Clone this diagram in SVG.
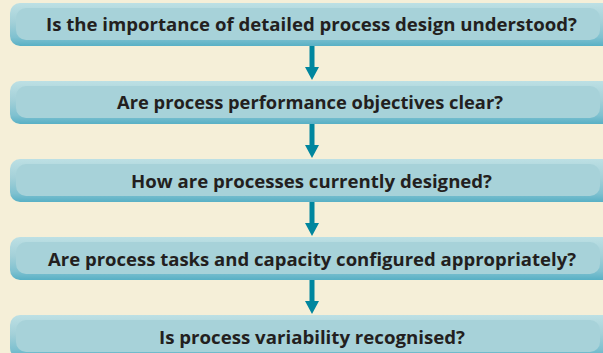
<svg xmlns="http://www.w3.org/2000/svg" width="603" height="353" viewBox="0 0 603 353">
  <defs>
    <linearGradient id="outerGrad" x1="0" y1="0" x2="0" y2="1">
      <stop offset="0" stop-color="#bde0e4"/>
      <stop offset="0.45" stop-color="#a3d0d8"/>
      <stop offset="0.8" stop-color="#7fc1d0"/>
      <stop offset="1" stop-color="#58b0c5"/>
    </linearGradient>
    <style>
      .outer { fill: url(#outerGrad); }
      .inner { fill: #a7d2d9; }
      .label { font-family: "Open Sans", "DejaVu Sans", sans-serif; font-weight: 700; font-size: 18px; fill: #231f20; text-anchor: middle; }
      .arrow { fill: #00869e; }
    </style>
  </defs>
  <rect x="0" y="0" width="603" height="353" fill="#f5efd8"/>

  <g id="node1">
    <rect class="outer" x="10" y="3" width="610" height="43" rx="10"/>
    <rect class="inner" x="16" y="8" width="584" height="32" rx="10"/>
    <text class="label" x="311.5" y="31" textLength="531" lengthAdjust="spacingAndGlyphs">Is the importance of detailed process design understood?</text>
  </g>
  <g id="node2">
    <rect class="outer" x="10" y="81" width="610" height="43" rx="10"/>
    <rect class="inner" x="16" y="86" width="584" height="32" rx="10"/>
    <text class="label" x="310" y="109" textLength="386" lengthAdjust="spacingAndGlyphs">Are process performance objectives clear?</text>
  </g>
  <g id="node3">
    <rect class="outer" x="10" y="159" width="610" height="43" rx="10"/>
    <rect class="inner" x="16" y="164" width="584" height="32" rx="10"/>
    <text class="label" x="311.5" y="187.5" textLength="361" lengthAdjust="spacingAndGlyphs">How are processes currently designed?</text>
  </g>
  <g id="node4">
    <rect class="outer" x="10" y="237" width="610" height="43" rx="10"/>
    <rect class="inner" x="16" y="242" width="584" height="32" rx="10"/>
    <text class="label" x="312" y="265.5" textLength="528" lengthAdjust="spacingAndGlyphs">Are process tasks and capacity configured appropriately?</text>
  </g>
  <g id="node5">
    <rect class="outer" x="10" y="315" width="610" height="43" rx="10"/>
    <rect class="inner" x="16" y="320" width="584" height="32" rx="10"/>
    <text class="label" x="312" y="343.5" textLength="306" lengthAdjust="spacingAndGlyphs">Is process variability recognised?</text>
  </g>

  <g id="connectors">
    <path class="arrow" d="M309.5 46 H314.5 V67 H319 L312 80 L305 67 H309.5 Z"/>
    <path class="arrow" d="M309.5 124 H314.5 V145 H319 L312 158 L305 145 H309.5 Z"/>
    <path class="arrow" d="M309.5 202 H314.5 V223 H319 L312 236 L305 223 H309.5 Z"/>
    <path class="arrow" d="M309.5 280 H314.5 V301 H319 L312 314 L305 301 H309.5 Z"/>
  </g>
</svg>
